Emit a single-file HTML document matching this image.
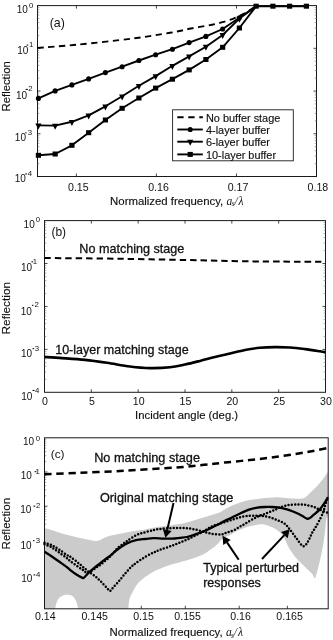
<!DOCTYPE html><html><head><meta charset="utf-8"><style>html,body{margin:0;padding:0;background:#fff;}svg{display:block;filter:grayscale(1);}text{font-family:"Liberation Sans",sans-serif;fill:#111;}.an{stroke:#111;stroke-width:0.3px;}.lb{stroke:#111;stroke-width:0.15px;}</style></head><body>
<svg width="333" height="640" viewBox="0 0 333 640">
<rect width="333" height="640" fill="#fff"/>
<rect x="37.5" y="5.6" width="279.0" height="170.9" fill="none" stroke="#1a1a1a" stroke-width="1"/>
<path d="M76.4,176.5v-3M76.4,5.6v3M156.4,176.5v-3M156.4,5.6v3M236.5,176.5v-3M236.5,5.6v3M37.5,48.325h3M316.5,48.325h-3M37.5,91.05h3M316.5,91.05h-3M37.5,133.775h3M316.5,133.775h-3" stroke="#1a1a1a" stroke-width="0.8" fill="none"/>
<path d="M37.5,35.4634934352564h1.8M316.5,35.4634934352564h-1.8M37.5,27.93999439210242h1.8M316.5,27.93999439210242h-1.8M37.5,22.601986870512803h1.8M316.5,22.601986870512803h-1.8M37.5,18.461506564743598h1.8M316.5,18.461506564743598h-1.8M37.5,15.078487827358822h1.8M316.5,15.078487827358822h-1.8M37.5,12.218186240390875h1.8M316.5,12.218186240390875h-1.8M37.5,9.740480305769209h1.8M316.5,9.740480305769209h-1.8M37.5,7.554988784204844h1.8M316.5,7.554988784204844h-1.8M37.5,78.1884934352564h1.8M316.5,78.1884934352564h-1.8M37.5,70.66499439210241h1.8M316.5,70.66499439210241h-1.8M37.5,65.3269868705128h1.8M316.5,65.3269868705128h-1.8M37.5,61.1865065647436h1.8M316.5,61.1865065647436h-1.8M37.5,57.80348782735883h1.8M316.5,57.80348782735883h-1.8M37.5,54.94318624039088h1.8M316.5,54.94318624039088h-1.8M37.5,52.46548030576921h1.8M316.5,52.46548030576921h-1.8M37.5,50.27998878420485h1.8M316.5,50.27998878420485h-1.8M37.5,120.9134934352564h1.8M316.5,120.9134934352564h-1.8M37.5,113.38999439210241h1.8M316.5,113.38999439210241h-1.8M37.5,108.0519868705128h1.8M316.5,108.0519868705128h-1.8M37.5,103.91150656474359h1.8M316.5,103.91150656474359h-1.8M37.5,100.52848782735882h1.8M316.5,100.52848782735882h-1.8M37.5,97.66818624039087h1.8M316.5,97.66818624039087h-1.8M37.5,95.1904803057692h1.8M316.5,95.1904803057692h-1.8M37.5,93.00498878420484h1.8M316.5,93.00498878420484h-1.8M37.5,163.6384934352564h1.8M316.5,163.6384934352564h-1.8M37.5,156.1149943921024h1.8M316.5,156.1149943921024h-1.8M37.5,150.77698687051281h1.8M316.5,150.77698687051281h-1.8M37.5,146.6365065647436h1.8M316.5,146.6365065647436h-1.8M37.5,143.2534878273588h1.8M316.5,143.2534878273588h-1.8M37.5,140.39318624039086h1.8M316.5,140.39318624039086h-1.8M37.5,137.9154803057692h1.8M316.5,137.9154803057692h-1.8M37.5,135.72998878420483h1.8M316.5,135.72998878420483h-1.8" stroke="#666" stroke-width="0.6" fill="none"/>
<text x="78.3" y="190.5" font-size="10.6" text-anchor="middle" >0.15</text>
<text x="158.5" y="190.5" font-size="10.6" text-anchor="middle" >0.16</text>
<text x="238" y="190.5" font-size="10.6" text-anchor="middle" >0.17</text>
<text x="317.9" y="190.5" font-size="10.6" text-anchor="middle" >0.18</text>
<text x="27.78" y="12.99" font-size="10.0" text-anchor="end">10</text>
<text x="33.37" y="7.66" font-size="7.8" text-anchor="end">0</text>
<text x="28.38" y="53.54" font-size="10.0" text-anchor="end">10</text>
<text x="33.29" y="47.13" font-size="7.8" text-anchor="end">1</text>
<rect x="26.65" y="44.51" width="1.60" height="1.1" fill="#111"/>
<text x="27.08" y="99.34" font-size="10.0" text-anchor="end">10</text>
<text x="32.67" y="91.48" font-size="7.8" text-anchor="end">2</text>
<rect x="25.65" y="88.86" width="2.20" height="1.1" fill="#111"/>
<text x="25.98" y="140.64" font-size="10.0" text-anchor="end">10</text>
<text x="32.04" y="134.88" font-size="7.8" text-anchor="end">3</text>
<rect x="25.25" y="132.26" width="1.30" height="1.1" fill="#111"/>
<text x="25.78" y="182.29" font-size="10.0" text-anchor="end">10</text>
<text x="32.04" y="176.03" font-size="7.8" text-anchor="end">4</text>
<rect x="25.25" y="173.41" width="1.70" height="1.1" fill="#111"/>
<text transform="translate(10.0,86.3) rotate(-90)" class="lb" font-size="11.3" text-anchor="middle">Reflection</text>
<text x="110.1" y="204.6" font-size="11.4" class="lb">Normalized frequency,</text>
<g font-family="Liberation Serif" font-style="italic" fill="#222"><text x="226.6" y="204.6" font-size="11.5" style="font-family:Liberation Serif">a</text><text x="231.7" y="206.4" font-size="7.5" style="font-family:Liberation Serif">s</text><text x="234.4" y="204.6" font-size="11.5" style="font-family:Liberation Serif">/</text><text x="238.6" y="204.6" font-size="11.5" style="font-family:Liberation Serif">λ</text></g>
<text x="49.7" y="26.9" font-size="12.4" text-anchor="start" >(a)</text>
<path d="M37.50,47.90 C43.92,47.38 60.25,46.35 76.00,44.80 C91.75,43.25 116.33,40.60 132.00,38.60 C147.67,36.60 160.17,34.48 170.00,32.80 C179.83,31.12 184.00,29.85 191.00,28.50 C198.00,27.15 206.75,25.75 212.00,24.70 C217.25,23.65 219.00,23.18 222.50,22.20 C226.00,21.22 229.92,19.97 233.00,18.80 C236.08,17.63 238.50,16.45 241.00,15.20 C243.50,13.95 245.50,12.80 248.00,11.30 C250.50,9.80 254.67,7.05 256.00,6.20" fill="none" stroke="#000" stroke-width="1.9" stroke-dasharray="6.3 4.5"/>
<polyline points="38.40,98.40 55.15,90.90 71.90,84.90 88.65,78.90 105.40,72.60 122.15,66.70 138.90,60.50 155.65,54.70 172.40,49.20 189.15,42.60 205.90,36.40 222.65,29.00 239.40,17.80 256.15,6.20" fill="none" stroke="#000" stroke-width="1.9" stroke-linejoin="round"/>
<polyline points="38.40,125.40 55.15,125.60 71.90,121.80 88.65,115.30 105.40,106.30 122.15,96.30 138.90,85.80 155.65,76.10 172.40,65.80 189.15,56.40 205.90,46.70 222.65,35.00 239.40,18.60 256.15,6.20" fill="none" stroke="#000" stroke-width="1.9" stroke-linejoin="round"/>
<polyline points="38.40,155.30 55.15,154.00 71.90,145.30 88.65,132.70 105.40,120.00 122.15,108.30 138.90,98.00 155.65,88.10 172.40,79.20 189.15,69.90 205.90,59.50 222.65,47.30 239.40,28.00 256.15,6.20 272.90,6.20 289.65,6.20 306.40,6.20" fill="none" stroke="#000" stroke-width="1.9" stroke-linejoin="round"/>
<circle cx="38.40" cy="98.40" r="2.55" fill="#000"/>
<circle cx="55.15" cy="90.90" r="2.55" fill="#000"/>
<circle cx="71.90" cy="84.90" r="2.55" fill="#000"/>
<circle cx="88.65" cy="78.90" r="2.55" fill="#000"/>
<circle cx="105.40" cy="72.60" r="2.55" fill="#000"/>
<circle cx="122.15" cy="66.70" r="2.55" fill="#000"/>
<circle cx="138.90" cy="60.50" r="2.55" fill="#000"/>
<circle cx="155.65" cy="54.70" r="2.55" fill="#000"/>
<circle cx="172.40" cy="49.20" r="2.55" fill="#000"/>
<circle cx="189.15" cy="42.60" r="2.55" fill="#000"/>
<circle cx="205.90" cy="36.40" r="2.55" fill="#000"/>
<circle cx="222.65" cy="29.00" r="2.55" fill="#000"/>
<circle cx="239.40" cy="17.80" r="2.55" fill="#000"/>
<polygon points="35.30,123.50 41.50,123.50 38.40,129.50" fill="#000"/>
<polygon points="52.05,123.70 58.25,123.70 55.15,129.70" fill="#000"/>
<polygon points="68.80,119.90 75.00,119.90 71.90,125.90" fill="#000"/>
<polygon points="85.55,113.40 91.75,113.40 88.65,119.40" fill="#000"/>
<polygon points="102.30,104.40 108.50,104.40 105.40,110.40" fill="#000"/>
<polygon points="119.05,94.40 125.25,94.40 122.15,100.40" fill="#000"/>
<polygon points="135.80,83.90 142.00,83.90 138.90,89.90" fill="#000"/>
<polygon points="152.55,74.20 158.75,74.20 155.65,80.20" fill="#000"/>
<polygon points="169.30,63.90 175.50,63.90 172.40,69.90" fill="#000"/>
<polygon points="186.05,54.50 192.25,54.50 189.15,60.50" fill="#000"/>
<polygon points="202.80,44.80 209.00,44.80 205.90,50.80" fill="#000"/>
<polygon points="219.55,33.10 225.75,33.10 222.65,39.10" fill="#000"/>
<polygon points="236.30,16.70 242.50,16.70 239.40,22.70" fill="#000"/>
<rect x="35.80" y="152.80" width="5.2" height="5" fill="#000"/>
<rect x="52.55" y="151.50" width="5.2" height="5" fill="#000"/>
<rect x="69.30" y="142.80" width="5.2" height="5" fill="#000"/>
<rect x="86.05" y="130.20" width="5.2" height="5" fill="#000"/>
<rect x="102.80" y="117.50" width="5.2" height="5" fill="#000"/>
<rect x="119.55" y="105.80" width="5.2" height="5" fill="#000"/>
<rect x="136.30" y="95.50" width="5.2" height="5" fill="#000"/>
<rect x="153.05" y="85.60" width="5.2" height="5" fill="#000"/>
<rect x="169.80" y="76.70" width="5.2" height="5" fill="#000"/>
<rect x="186.55" y="67.40" width="5.2" height="5" fill="#000"/>
<rect x="203.30" y="57.00" width="5.2" height="5" fill="#000"/>
<rect x="220.05" y="44.80" width="5.2" height="5" fill="#000"/>
<rect x="236.80" y="25.50" width="5.2" height="5" fill="#000"/>
<rect x="253.55" y="3.70" width="5.2" height="5" fill="#000"/>
<rect x="270.30" y="3.70" width="5.2" height="5" fill="#000"/>
<rect x="287.05" y="3.70" width="5.2" height="5" fill="#000"/>
<rect x="303.80" y="3.70" width="5.2" height="5" fill="#000"/>
<rect x="172.6" y="109.8" width="120.7" height="51.0" fill="#fff" stroke="#1a1a1a" stroke-width="0.9"/>
<line x1="177.3" y1="117.3" x2="202.8" y2="117.3" stroke="#000" stroke-width="1.9" stroke-dasharray="6.3 4.7"/>
<line x1="177.3" y1="129.5" x2="202.8" y2="129.5" stroke="#000" stroke-width="1.9"/>
<circle cx="190.20" cy="129.50" r="2.55" fill="#000"/>
<line x1="177.3" y1="141.7" x2="202.8" y2="141.7" stroke="#000" stroke-width="1.9"/>
<polygon points="187.10,139.80 193.30,139.80 190.20,145.80" fill="#000"/>
<line x1="177.3" y1="154.4" x2="202.8" y2="154.4" stroke="#000" stroke-width="1.9"/>
<rect x="187.60" y="151.90" width="5.2" height="5" fill="#000"/>
<text x="206.0" y="121.7" font-size="10.9" text-anchor="start" class="lb">No buffer stage</text>
<text x="206.0" y="133.9" font-size="10.9" text-anchor="start" class="lb">4-layer buffer</text>
<text x="206.0" y="146.1" font-size="10.9" text-anchor="start" class="lb">6-layer buffer</text>
<text x="206.0" y="158.8" font-size="10.9" text-anchor="start" class="lb">10-layer buffer</text>
<rect x="44.5" y="220.6" width="281.0" height="171.70000000000002" fill="none" stroke="#1a1a1a" stroke-width="1"/>
<path d="M91.33333333333334,392.3v-3M91.33333333333334,220.6v3M138.16666666666669,392.3v-3M138.16666666666669,220.6v3M185.0,392.3v-3M185.0,220.6v3M231.83333333333334,392.3v-3M231.83333333333334,220.6v3M278.6666666666667,392.3v-3M278.6666666666667,220.6v3M44.5,263.525h3M325.5,263.525h-3M44.5,306.45h3M325.5,306.45h-3M44.5,349.375h3M325.5,349.375h-3" stroke="#1a1a1a" stroke-width="0.8" fill="none"/>
<path d="M44.5,250.6032874361236h1.8M325.5,250.6032874361236h-1.8M44.5,243.0445701411585h1.8M325.5,243.0445701411585h-1.8M44.5,237.6815748722472h1.8M325.5,237.6815748722472h-1.8M44.5,233.52171256387638h1.8M325.5,233.52171256387638h-1.8M44.5,230.12285757728208h1.8M325.5,230.12285757728208h-1.8M44.5,227.249166632388h1.8M325.5,227.249166632388h-1.8M44.5,224.75986230837083h1.8M325.5,224.75986230837083h-1.8M44.5,222.56414028231697h1.8M325.5,222.56414028231697h-1.8M44.5,293.5282874361236h1.8M325.5,293.5282874361236h-1.8M44.5,285.9695701411585h1.8M325.5,285.9695701411585h-1.8M44.5,280.6065748722472h1.8M325.5,280.6065748722472h-1.8M44.5,276.4467125638764h1.8M325.5,276.4467125638764h-1.8M44.5,273.0478575772821h1.8M325.5,273.0478575772821h-1.8M44.5,270.17416663238805h1.8M325.5,270.17416663238805h-1.8M44.5,267.68486230837084h1.8M325.5,267.68486230837084h-1.8M44.5,265.48914028231695h1.8M325.5,265.48914028231695h-1.8M44.5,336.4532874361236h1.8M325.5,336.4532874361236h-1.8M44.5,328.8945701411585h1.8M325.5,328.8945701411585h-1.8M44.5,323.53157487224723h1.8M325.5,323.53157487224723h-1.8M44.5,319.3717125638764h1.8M325.5,319.3717125638764h-1.8M44.5,315.97285757728207h1.8M325.5,315.97285757728207h-1.8M44.5,313.099166632388h1.8M325.5,313.099166632388h-1.8M44.5,310.6098623083708h1.8M325.5,310.6098623083708h-1.8M44.5,308.414140282317h1.8M325.5,308.414140282317h-1.8M44.5,379.3782874361236h1.8M325.5,379.3782874361236h-1.8M44.5,371.81957014115847h1.8M325.5,371.81957014115847h-1.8M44.5,366.4565748722472h1.8M325.5,366.4565748722472h-1.8M44.5,362.29671256387644h1.8M325.5,362.29671256387644h-1.8M44.5,358.8978575772821h1.8M325.5,358.8978575772821h-1.8M44.5,356.024166632388h1.8M325.5,356.024166632388h-1.8M44.5,353.53486230837086h1.8M325.5,353.53486230837086h-1.8M44.5,351.339140282317h1.8M325.5,351.339140282317h-1.8" stroke="#666" stroke-width="0.6" fill="none"/>
<text x="45.00" y="404.5" font-size="10.6" text-anchor="middle" >0</text>
<text x="91.83" y="404.5" font-size="10.6" text-anchor="middle" >5</text>
<text x="138.67" y="404.5" font-size="10.6" text-anchor="middle" >10</text>
<text x="185.50" y="404.5" font-size="10.6" text-anchor="middle" >15</text>
<text x="232.33" y="404.5" font-size="10.6" text-anchor="middle" >20</text>
<text x="279.17" y="404.5" font-size="10.6" text-anchor="middle" >25</text>
<text x="326.00" y="404.5" font-size="10.6" text-anchor="middle" >30</text>
<text x="34.73" y="228.44" font-size="10.0" text-anchor="end">10</text>
<text x="40.02" y="221.98" font-size="7.8" text-anchor="end">0</text>
<text x="32.13" y="270.99" font-size="10.0" text-anchor="end">10</text>
<text x="37.19" y="263.88" font-size="7.8" text-anchor="end">1</text>
<rect x="31.45" y="261.26" width="1.60" height="1.1" fill="#111"/>
<text x="31.88" y="314.64" font-size="10.0" text-anchor="end">10</text>
<text x="38.87" y="307.43" font-size="7.8" text-anchor="end">2</text>
<rect x="31.95" y="304.81" width="1.50" height="1.1" fill="#111"/>
<text x="32.13" y="357.44" font-size="10.0" text-anchor="end">10</text>
<text x="39.19" y="350.73" font-size="7.8" text-anchor="end">3</text>
<rect x="32.55" y="348.11" width="1.60" height="1.1" fill="#111"/>
<text x="32.43" y="399.64" font-size="10.0" text-anchor="end">10</text>
<text x="39.34" y="392.53" font-size="7.8" text-anchor="end">4</text>
<rect x="32.55" y="389.91" width="1.90" height="1.1" fill="#111"/>
<text transform="translate(10.0,308.2) rotate(-90)" class="lb" font-size="11.8" text-anchor="middle">Reflection</text>
<text x="135.1" y="418.8" font-size="11.3" text-anchor="start" class="lb">Incident angle (deg.)</text>
<text x="51.4" y="236.0" font-size="12.0" text-anchor="start" >(b)</text>
<text x="79.3" y="253.4" font-size="12.6" text-anchor="start" class="an">No matching stage</text>
<text x="55.2" y="354.3" font-size="12.5" text-anchor="start" class="an">10-layer matching stage</text>
<path d="M44.50,258.00 C53.75,258.08 82.42,258.28 100.00,258.50 C117.58,258.72 133.33,259.00 150.00,259.30 C166.67,259.60 185.00,259.98 200.00,260.30 C215.00,260.62 226.67,260.98 240.00,261.20 C253.33,261.42 265.75,261.50 280.00,261.60 C294.25,261.70 317.92,261.77 325.50,261.80" fill="none" stroke="#000" stroke-width="2" stroke-dasharray="6.4 4.0"/>
<path d="M44.50,357.00 C47.42,357.18 55.25,357.62 62.00,358.10 C68.75,358.58 77.50,359.12 85.00,359.90 C92.50,360.68 99.50,361.70 107.00,362.80 C114.50,363.90 122.83,365.62 130.00,366.50 C137.17,367.38 143.33,367.97 150.00,368.10 C156.67,368.23 164.17,367.90 170.00,367.30 C175.83,366.70 180.00,365.57 185.00,364.50 C190.00,363.43 195.00,362.15 200.00,360.90 C205.00,359.65 210.00,358.23 215.00,357.00 C220.00,355.77 225.00,354.67 230.00,353.50 C235.00,352.33 240.00,350.95 245.00,350.00 C250.00,349.05 255.00,348.28 260.00,347.80 C265.00,347.32 270.00,347.15 275.00,347.10 C280.00,347.05 285.00,347.17 290.00,347.50 C295.00,347.83 300.00,348.47 305.00,349.10 C310.00,349.73 316.58,350.78 320.00,351.30 C323.42,351.82 324.58,352.05 325.50,352.20" fill="none" stroke="#000" stroke-width="2.6"/>
<path d="M92.7,608.8v-3M141.3,608.8v-3M185.3,608.8v-3M239.2,608.8v-3M287.4,608.8v-3M44.5,472.0h3M44.5,506.2h3M44.5,540.4h3M44.5,574.5999999999999h3" stroke="#1a1a1a" stroke-width="0.8" fill="none"/>
<path d="M44.5,461.70477414829185h1.8M44.5,455.6824530885875h1.8M44.5,451.4095482965837h1.8M44.5,448.09522585170816h1.8M44.5,445.38722723687937h1.8M44.5,443.09764703151245h1.8M44.5,441.11432244487554h1.8M44.5,439.3649061771751h1.8M44.5,495.90477414829184h1.8M44.5,489.88245308858757h1.8M44.5,485.6095482965837h1.8M44.5,482.29522585170815h1.8M44.5,479.58722723687936h1.8M44.5,477.2976470315124h1.8M44.5,475.31432244487553h1.8M44.5,473.5649061771751h1.8M44.5,530.1047741482919h1.8M44.5,524.0824530885875h1.8M44.5,519.8095482965837h1.8M44.5,516.4952258517081h1.8M44.5,513.7872272368794h1.8M44.5,511.49764703151243h1.8M44.5,509.5143224448755h1.8M44.5,507.7649061771751h1.8M44.5,564.3047741482918h1.8M44.5,558.2824530885875h1.8M44.5,554.0095482965837h1.8M44.5,550.6952258517081h1.8M44.5,547.9872272368793h1.8M44.5,545.6976470315124h1.8M44.5,543.7143224448755h1.8M44.5,541.9649061771751h1.8M44.5,598.5047741482917h1.8M44.5,592.4824530885875h1.8M44.5,588.2095482965836h1.8M44.5,584.8952258517081h1.8M44.5,582.1872272368794h1.8M44.5,579.8976470315124h1.8M44.5,577.9143224448756h1.8M44.5,576.164906177175h1.8" stroke="#666" stroke-width="0.6" fill="none"/>
<path d="M44.50,528.00 C45.92,528.42 50.08,529.60 53.00,530.50 C55.92,531.40 59.00,532.52 62.00,533.40 C65.00,534.28 68.00,535.03 71.00,535.80 C74.00,536.57 77.00,537.33 80.00,538.00 C83.00,538.67 86.50,539.30 89.00,539.80 C91.50,540.30 93.25,540.92 95.00,541.00 C96.75,541.08 98.00,540.80 99.50,540.30 C101.00,539.80 102.25,538.75 104.00,538.00 C105.75,537.25 107.75,536.42 110.00,535.80 C112.25,535.18 115.00,534.80 117.50,534.30 C120.00,533.80 122.50,533.30 125.00,532.80 C127.50,532.30 130.00,531.73 132.50,531.30 C135.00,530.87 137.92,530.52 140.00,530.20 C142.08,529.88 143.00,529.77 145.00,529.40 C147.00,529.03 149.50,528.47 152.00,528.00 C154.50,527.53 157.00,527.03 160.00,526.60 C163.00,526.17 167.00,525.80 170.00,525.40 C173.00,525.00 175.50,524.60 178.00,524.20 C180.50,523.80 182.67,523.53 185.00,523.00 C187.33,522.47 189.50,521.75 192.00,521.00 C194.50,520.25 197.50,519.27 200.00,518.50 C202.50,517.73 204.50,517.15 207.00,516.40 C209.50,515.65 212.83,514.68 215.00,514.00 C217.17,513.32 217.67,513.48 220.00,512.30 C222.33,511.12 226.00,508.40 229.00,506.90 C232.00,505.40 235.00,504.35 238.00,503.30 C241.00,502.25 244.00,501.28 247.00,500.60 C250.00,499.92 253.00,499.65 256.00,499.20 C259.00,498.75 262.00,498.20 265.00,497.90 C268.00,497.60 271.50,497.48 274.00,497.40 C276.50,497.32 277.90,497.30 280.00,497.40 C282.10,497.50 283.93,497.78 286.60,498.00 C289.27,498.22 293.43,498.63 296.00,498.70 C298.57,498.77 300.42,498.65 302.00,498.40 C303.58,498.15 304.03,498.22 305.50,497.20 C306.97,496.18 308.98,494.03 310.80,492.30 C312.62,490.57 314.53,488.82 316.40,486.80 C318.27,484.78 320.28,482.38 322.00,480.20 C323.72,478.02 325.70,475.10 326.70,473.70 C327.70,472.30 327.78,472.12 328.00,471.80 L328,515.7 L328.00,515.70 C327.70,516.37 326.72,516.85 326.20,519.70 C325.68,522.55 325.45,528.42 324.90,532.80 C324.35,537.18 323.67,541.63 322.90,546.00 C322.13,550.37 321.28,554.63 320.30,559.00 C319.32,563.37 317.88,568.87 317.00,572.20 C316.12,575.53 315.33,577.87 315.00,579.00 L312.00,573.60 C311.17,572.83 308.83,570.77 307.00,569.00 C305.17,567.23 302.75,564.75 301.00,563.00 C299.25,561.25 298.00,560.25 296.50,558.50 C295.00,556.75 293.25,554.25 292.00,552.50 C290.75,550.75 290.00,549.75 289.00,548.00 C288.00,546.25 287.00,544.00 286.00,542.00 C285.00,540.00 284.50,538.00 283.00,536.00 C281.50,534.00 279.25,531.62 277.00,530.00 C274.75,528.38 272.00,527.27 269.50,526.30 C267.00,525.33 265.08,524.25 262.00,524.20 C258.92,524.15 253.83,525.40 251.00,526.00 C248.17,526.60 247.25,527.00 245.00,527.80 C242.75,528.60 239.83,529.68 237.50,530.80 C235.17,531.92 233.25,533.33 231.00,534.50 C228.75,535.67 225.60,536.95 224.00,537.80 C222.40,538.65 222.23,538.83 221.40,539.60 C220.57,540.37 220.07,541.28 219.00,542.40 C217.93,543.52 216.17,545.27 215.00,546.30 C213.83,547.33 213.25,547.70 212.00,548.60 C210.75,549.50 209.00,550.73 207.50,551.70 C206.00,552.67 204.50,553.65 203.00,554.40 C201.50,555.15 200.00,555.60 198.50,556.20 C197.00,556.80 195.50,557.47 194.00,558.00 C192.50,558.53 191.00,558.95 189.50,559.40 C188.00,559.85 187.25,560.05 185.00,560.70 C182.75,561.35 179.00,562.42 176.00,563.30 C173.00,564.18 170.00,564.95 167.00,566.00 C164.00,567.05 160.70,568.40 158.00,569.60 C155.30,570.80 152.90,572.00 150.80,573.20 C148.70,574.40 147.20,575.45 145.40,576.80 C143.60,578.15 141.57,579.77 140.00,581.30 C138.43,582.83 137.23,584.17 136.00,586.00 C134.77,587.83 133.60,590.38 132.60,592.30 C131.60,594.22 130.63,595.72 130.00,597.50 C129.37,599.28 129.05,601.12 128.80,603.00 C128.55,604.88 128.55,607.83 128.50,608.80 L78.20,608.80 C78.00,608.00 77.53,605.63 77.00,604.00 C76.47,602.37 75.83,600.37 75.00,599.00 C74.17,597.63 73.17,596.50 72.00,595.80 C70.83,595.10 69.42,594.90 68.00,594.80 C66.58,594.70 64.92,594.75 63.50,595.20 C62.08,595.65 60.62,596.37 59.50,597.50 C58.38,598.63 57.55,600.12 56.80,602.00 C56.05,603.88 55.30,607.67 55.00,608.80 L44.5,608.8 Z" fill="#cbcbcb" stroke="none"/>
<rect x="44.5" y="437.8" width="283.7" height="170.99999999999994" fill="none" stroke="#1a1a1a" stroke-width="1"/>
<text x="45.3" y="619.8" font-size="10.6" text-anchor="middle" >0.14</text>
<text x="94.7" y="619.8" font-size="10.6" text-anchor="middle" >0.145</text>
<text x="143.5" y="619.8" font-size="10.6" text-anchor="middle" >0.15</text>
<text x="187.6" y="619.8" font-size="10.6" text-anchor="middle" >0.155</text>
<text x="240.6" y="619.8" font-size="10.6" text-anchor="middle" >0.16</text>
<text x="289.6" y="619.8" font-size="10.6" text-anchor="middle" >0.165</text>
<text x="34.03" y="444.54" font-size="10.0" text-anchor="end">10</text>
<text x="40.02" y="440.53" font-size="7.8" text-anchor="end">0</text>
<text x="31.88" y="479.34" font-size="10.0" text-anchor="end">10</text>
<text x="39.89" y="473.73" font-size="7.8" text-anchor="end">1</text>
<rect x="34.65" y="471.11" width="1.70" height="1.1" fill="#111"/>
<text x="31.33" y="513.04" font-size="10.0" text-anchor="end">10</text>
<text x="40.32" y="508.23" font-size="7.8" text-anchor="end">2</text>
<rect x="33.55" y="505.61" width="1.70" height="1.1" fill="#111"/>
<text x="31.63" y="549.44" font-size="10.0" text-anchor="end">10</text>
<text x="40.04" y="542.68" font-size="7.8" text-anchor="end">3</text>
<rect x="33.05" y="540.06" width="1.40" height="1.1" fill="#111"/>
<text x="32.43" y="582.34" font-size="10.0" text-anchor="end">10</text>
<text x="40.34" y="576.98" font-size="7.8" text-anchor="end">4</text>
<rect x="33.55" y="574.36" width="1.70" height="1.1" fill="#111"/>
<text transform="translate(10.0,523.7) rotate(-90)" class="lb" font-size="11.6" text-anchor="middle">Reflection</text>
<text x="109.5" y="636.0" font-size="11.4" class="lb">Normalized frequency,</text>
<g font-family="Liberation Serif" font-style="italic" fill="#222"><text x="226.0" y="636.0" font-size="11.5" style="font-family:Liberation Serif">a</text><text x="231.1" y="637.8" font-size="7.5" style="font-family:Liberation Serif">s</text><text x="233.8" y="636.0" font-size="11.5" style="font-family:Liberation Serif">/</text><text x="238.0" y="636.0" font-size="11.5" style="font-family:Liberation Serif">λ</text></g>
<text x="50.8" y="457.7" font-size="11.8" text-anchor="start" >(c)</text>
<text x="94.2" y="461.9" font-size="12.7" text-anchor="start" class="an">No matching stage</text>
<text x="100.0" y="501.6" font-size="12.7" text-anchor="start" class="an">Original matching stage</text>
<text x="203.2" y="572.1" font-size="12.5" text-anchor="start" class="an">Typical perturbed</text>
<text x="203.2" y="587.0" font-size="12.5" text-anchor="start" class="an">responses</text>
<path d="M44.50,474.30 C50.42,474.05 67.42,473.35 80.00,472.80 C92.58,472.25 108.33,471.60 120.00,471.00 C131.67,470.40 140.00,469.83 150.00,469.20 C160.00,468.57 171.00,467.93 180.00,467.20 C189.00,466.47 196.50,465.58 204.00,464.80 C211.50,464.02 217.33,463.30 225.00,462.50 C232.67,461.70 241.67,460.92 250.00,460.00 C258.33,459.08 266.67,458.13 275.00,457.00 C283.33,455.87 293.33,454.27 300.00,453.20 C306.67,452.13 310.33,451.47 315.00,450.60 C319.67,449.73 325.83,448.43 328.00,448.00" fill="none" stroke="#000" stroke-width="2.5" stroke-dasharray="7.2 4.8"/>
<path d="M44.50,551.80 C45.67,552.55 49.08,554.68 51.50,556.30 C53.92,557.92 56.50,559.75 59.00,561.50 C61.50,563.25 64.67,565.42 66.50,566.80 C68.33,568.18 68.42,568.57 70.00,569.80 C71.58,571.03 74.00,572.90 76.00,574.20 C78.00,575.50 80.67,577.03 82.00,577.60 C83.33,578.17 83.00,578.32 84.00,577.60 C85.00,576.88 86.33,574.87 88.00,573.30 C89.67,571.73 92.00,569.85 94.00,568.20 C96.00,566.55 98.00,565.00 100.00,563.40 C102.00,561.80 104.33,559.83 106.00,558.60 C107.67,557.37 108.67,557.05 110.00,556.00 C111.33,554.95 112.33,553.67 114.00,552.30 C115.67,550.93 117.83,549.28 120.00,547.80 C122.17,546.32 124.33,544.67 127.00,543.40 C129.67,542.13 133.00,540.93 136.00,540.20 C139.00,539.47 142.00,539.33 145.00,539.00 C148.00,538.67 151.00,538.27 154.00,538.20 C157.00,538.13 160.00,538.53 163.00,538.60 C166.00,538.67 169.17,538.73 172.00,538.60 C174.83,538.47 177.50,538.07 180.00,537.80 C182.50,537.53 184.33,537.60 187.00,537.00 C189.67,536.40 193.00,535.23 196.00,534.20 C199.00,533.17 202.25,531.95 205.00,530.80 C207.75,529.65 210.00,528.53 212.50,527.30 C215.00,526.07 217.50,524.68 220.00,523.40 C222.50,522.12 225.00,520.83 227.50,519.60 C230.00,518.37 232.58,517.17 235.00,516.00 C237.42,514.83 239.67,513.67 242.00,512.60 C244.33,511.53 246.67,510.40 249.00,509.60 C251.33,508.80 253.33,508.23 256.00,507.80 C258.67,507.37 262.33,507.13 265.00,507.00 C267.67,506.87 269.83,506.93 272.00,507.00 C274.17,507.07 276.00,507.13 278.00,507.40 C280.00,507.67 282.00,508.10 284.00,508.60 C286.00,509.10 288.00,509.70 290.00,510.40 C292.00,511.10 294.00,511.90 296.00,512.80 C298.00,513.70 300.20,514.83 302.00,515.80 C303.80,516.77 305.55,518.20 306.80,518.60 C308.05,519.00 308.42,518.78 309.50,518.20 C310.58,517.62 311.58,516.57 313.30,515.10 C315.02,513.63 317.92,511.43 319.80,509.40 C321.68,507.37 323.25,504.93 324.60,502.90 C325.95,500.87 327.35,498.15 327.90,497.20" fill="none" stroke="#000" stroke-width="2.3"/>
<path d="M44.50,544.30 C45.67,544.80 49.08,545.93 51.50,547.30 C53.92,548.67 56.50,550.75 59.00,552.50 C61.50,554.25 64.67,556.42 66.50,557.80 C68.33,559.18 68.42,559.57 70.00,560.80 C71.58,562.03 74.00,563.77 76.00,565.20 C78.00,566.63 80.40,568.25 82.00,569.40 C83.60,570.55 84.30,571.70 85.60,572.10 C86.90,572.50 88.30,572.37 89.80,571.80 C91.30,571.23 93.00,569.77 94.60,568.70 C96.20,567.63 97.80,566.57 99.40,565.40 C101.00,564.23 102.60,563.00 104.20,561.70 C105.80,560.40 107.37,559.15 109.00,557.60 C110.63,556.05 112.50,554.07 114.00,552.40 C115.50,550.73 116.50,549.00 118.00,547.60 C119.50,546.20 121.50,545.10 123.00,544.00 C124.50,542.90 124.83,542.45 127.00,541.00 C129.17,539.55 133.00,536.75 136.00,535.30 C139.00,533.85 142.00,533.18 145.00,532.30 C148.00,531.42 151.50,530.55 154.00,530.00 C156.50,529.45 157.50,529.30 160.00,529.00 C162.50,528.70 166.00,528.37 169.00,528.20 C172.00,528.03 175.00,528.00 178.00,528.00 C181.00,528.00 184.00,527.92 187.00,528.20 C190.00,528.48 193.00,529.03 196.00,529.70 C199.00,530.37 202.17,531.48 205.00,532.20 C207.83,532.92 210.25,533.63 213.00,534.00 C215.75,534.37 219.08,534.68 221.50,534.40 C223.92,534.12 225.25,533.10 227.50,532.30 C229.75,531.50 232.50,530.78 235.00,529.60 C237.50,528.42 240.00,526.67 242.50,525.20 C245.00,523.73 247.58,522.17 250.00,520.80 C252.42,519.43 254.83,518.03 257.00,517.00 C259.17,515.97 261.00,515.38 263.00,514.60 C265.00,513.82 267.00,513.10 269.00,512.30 C271.00,511.50 273.17,510.62 275.00,509.80 C276.83,508.98 278.07,508.13 280.00,507.40 C281.93,506.67 284.10,505.88 286.60,505.40 C289.10,504.92 292.00,504.62 295.00,504.50 C298.00,504.38 301.45,504.28 304.60,504.70 C307.75,505.12 311.33,506.15 313.90,507.00 C316.47,507.85 317.92,508.92 320.00,509.80 C322.08,510.68 325.07,511.77 326.40,512.30 C327.73,512.83 327.73,512.88 328.00,513.00" fill="none" stroke="#000" stroke-width="2.5" stroke-dasharray="0 3.3" stroke-linecap="round"/>
<path d="M44.50,542.80 C45.67,543.17 49.08,543.88 51.50,545.00 C53.92,546.12 56.50,547.87 59.00,549.50 C61.50,551.13 64.67,553.62 66.50,554.80 C68.33,555.98 68.42,555.57 70.00,556.60 C71.58,557.63 74.00,559.40 76.00,561.00 C78.00,562.60 80.00,564.50 82.00,566.20 C84.00,567.90 85.83,569.53 88.00,571.20 C90.17,572.87 92.83,574.47 95.00,576.20 C97.17,577.93 99.00,579.63 101.00,581.60 C103.00,583.57 105.50,586.47 107.00,588.00 C108.50,589.53 109.00,590.87 110.00,590.80 C111.00,590.73 111.50,589.23 113.00,587.60 C114.50,585.97 117.00,583.30 119.00,581.00 C121.00,578.70 123.00,576.10 125.00,573.80 C127.00,571.50 129.17,569.00 131.00,567.20 C132.83,565.40 133.67,564.70 136.00,563.00 C138.33,561.30 142.00,558.77 145.00,557.00 C148.00,555.23 151.50,553.62 154.00,552.40 C156.50,551.18 157.50,550.63 160.00,549.70 C162.50,548.77 166.00,547.88 169.00,546.80 C172.00,545.72 175.00,544.40 178.00,543.20 C181.00,542.00 184.00,540.95 187.00,539.60 C190.00,538.25 193.00,536.60 196.00,535.10 C199.00,533.60 202.33,532.07 205.00,530.60 C207.67,529.13 209.50,527.47 212.00,526.30 C214.50,525.13 217.42,524.47 220.00,523.60 C222.58,522.73 225.00,521.90 227.50,521.10 C230.00,520.30 232.50,519.55 235.00,518.80 C237.50,518.05 240.00,517.10 242.50,516.60 C245.00,516.10 247.75,515.95 250.00,515.80 C252.25,515.65 254.00,515.68 256.00,515.70 C258.00,515.72 259.75,515.63 262.00,515.90 C264.25,516.17 267.00,516.62 269.50,517.30 C272.00,517.98 274.53,518.98 277.00,520.00 C279.47,521.02 282.17,521.85 284.30,523.40 C286.43,524.95 287.77,526.78 289.80,529.30 C291.83,531.82 294.22,535.68 296.50,538.50 C298.78,541.32 301.50,545.87 303.50,546.20 C305.50,546.53 307.08,542.70 308.50,540.50 C309.92,538.30 310.83,535.17 312.00,533.00 C313.17,530.83 314.13,529.87 315.50,527.50 C316.87,525.13 318.90,521.43 320.20,518.80 C321.50,516.17 322.52,513.78 323.30,511.70 C324.08,509.62 324.38,507.98 324.90,506.30 C325.42,504.62 325.88,503.15 326.40,501.60 C326.92,500.05 327.73,497.77 328.00,497.00" fill="none" stroke="#000" stroke-width="2.5" stroke-dasharray="0 3.3" stroke-linecap="round"/>
<line x1="173.5" y1="503" x2="167.21" y2="530.01" stroke="#000" stroke-width="2.0"/>
<polygon points="165.4,537.8 162.83,528.99 171.60,531.03" fill="#000"/>
<line x1="238.7" y1="559.8" x2="226.98" y2="542.43" stroke="#000" stroke-width="2.0"/>
<polygon points="222.5,535.8 230.71,539.91 223.25,544.95" fill="#000"/>
<line x1="262" y1="559" x2="284.33" y2="535.14" stroke="#000" stroke-width="2.0"/>
<polygon points="289.8,529.3 287.62,538.22 281.05,532.07" fill="#000"/>
</svg></body></html>
